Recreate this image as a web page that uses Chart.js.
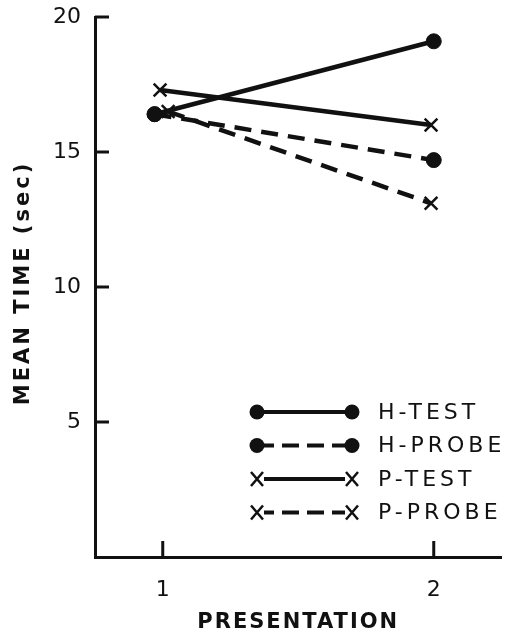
<!DOCTYPE html>
<html lang="en">
<head>
  <meta charset="UTF-8">
  <title>Mean time by presentation</title>
  <script src="https://cdn.jsdelivr.net/npm/chart.js"></script>
  <style>
    body { margin: 0; background: #fff; }
    #wrap { width: 513px; height: 637px; }
  </style>
</head>
<body>
  <div id="wrap"><canvas id="chart" width="513" height="637"></canvas></div>
  <script>
    // data
    const presentations = [1, 2];
    const hTestX = [0.97, 2];
    const hTest = [16.4, 19.1];
    const hProbeX = [0.97, 2];
    const hProbe = [16.4, 14.7];
    const pTestX = [0.99, 1.99];
    const pTest = [17.3, 16.0];
    const pProbeX = [1.02, 1.99];
    const pProbe = [16.5, 13.1];
    const yTicks = [5, 10, 15, 20];
    const seriesNames = ['H-TEST', 'H-PROBE', 'P-TEST', 'P-PROBE'];

    const ink = '#111';
    const toPoints = (xs, ys) => xs.map((x, i) => ({ x: x, y: ys[i] }));

    const makeSet = (label, xs, ys, style, dashed) => ({
      label: label,
      data: toPoints(xs, ys),
      borderColor: ink,
      backgroundColor: ink,
      borderWidth: 4.5,
      borderDash: dashed ? [17, 10] : [],
      pointStyle: style,
      pointRadius: style === 'circle' ? 7.5 : 9,
      pointBorderWidth: style === 'circle' ? 1 : 2.5,
      tension: 0
    });

    // legend drawn by hand: symbol - line - symbol, then name
    const legendPlugin = {
      id: 'handLegend',
      afterDraw(chart) {
        const ctx = chart.ctx;
        const area = chart.chartArea;
        const styles = ['circle', 'circle', 'crossRot', 'crossRot'];
        const dashes = [false, true, false, true];
        const x0 = area.left + 162, x1 = area.left + 257;
        ctx.save();
        seriesNames.forEach((name, i) => {
          const y = area.bottom - 145 + i * 33.5;
          ctx.strokeStyle = ink;
          ctx.lineWidth = 4;
          ctx.setLineDash(dashes[i] ? [17, 8] : []);
          ctx.beginPath();
          ctx.moveTo(x0, y);
          ctx.lineTo(x1, y);
          ctx.stroke();
          ctx.setLineDash([]);
          [x0, x1].forEach(px => {
            if (styles[i] === 'circle') {
              ctx.fillStyle = ink;
              ctx.beginPath();
              ctx.arc(px, y, 7.5, 0, Math.PI * 2);
              ctx.fill();
            } else {
              ctx.fillStyle = '#fff';
              ctx.fillRect(px - 7, y - 8, 14, 16);
              ctx.lineWidth = 2.5;
              ctx.beginPath();
              ctx.moveTo(px - 6, y - 7); ctx.lineTo(px + 6, y + 7);
              ctx.moveTo(px + 6, y - 7); ctx.lineTo(px - 6, y + 7);
              ctx.stroke();
            }
          });
          ctx.fillStyle = ink;
          ctx.font = '22px "DejaVu Sans"';
          ctx.letterSpacing = '4px';
          ctx.textBaseline = 'middle';
          ctx.textAlign = 'left';
          ctx.fillText(name, x1 + 26, y + 1);
        });
        ctx.restore();
      }
    };

    // inward tick marks and the axis titles
    const axesPlugin = {
      id: 'inwardTicks',
      afterDraw(chart) {
        const ctx = chart.ctx;
        const area = chart.chartArea;
        const xs = chart.scales.x, ys = chart.scales.y;
        ctx.save();
        ctx.strokeStyle = ink;
        ctx.lineWidth = 3;
        yTicks.forEach(v => {
          const py = ys.getPixelForValue(v);
          ctx.beginPath();
          ctx.moveTo(area.left, py);
          ctx.lineTo(area.left + 14, py);
          ctx.stroke();
        });
        presentations.forEach(v => {
          const px = xs.getPixelForValue(v);
          ctx.beginPath();
          ctx.moveTo(px, area.bottom);
          ctx.lineTo(px, area.bottom - 16);
          ctx.stroke();
        });
        ctx.fillStyle = ink;
        ctx.font = 'bold 21px "DejaVu Sans"';
        ctx.letterSpacing = '2px';
        ctx.textAlign = 'center';
        ctx.textBaseline = 'middle';
        ctx.fillText('PRESENTATION', (area.left + area.right) / 2, 623);
        ctx.letterSpacing = '3px';
        ctx.translate(24, (area.top + area.bottom) / 2 - 4);
        ctx.rotate(-Math.PI / 2);
        ctx.fillText('MEAN TIME (sec)', 0, 0);
        ctx.restore();
      }
    };

    new Chart(document.getElementById('chart'), {
      type: 'line',
      data: {
        datasets: [
          makeSet('H-TEST', hTestX, hTest, 'circle', false),
          makeSet('H-PROBE', hProbeX, hProbe, 'circle', true),
          makeSet('P-TEST', pTestX, pTest, 'crossRot', false),
          makeSet('P-PROBE', pProbeX, pProbe, 'crossRot', true)
        ]
      },
      options: {
        responsive: false,
        animation: false,
        layout: { padding: { top: 17, right: 6, left: 0, bottom: 0 } },
        plugins: {
          legend: { display: false },
          tooltip: { enabled: false }
        },
        scales: {
          x: {
            type: 'linear',
            min: 0.75,
            max: 2.25,
            afterBuildTicks: scale => { scale.ticks = presentations.map(v => ({ value: v })); },
            afterFit: scale => { scale.height = 80; scale.paddingLeft = 0; scale.paddingRight = 0; },
            grid: { display: false, drawTicks: false },
            border: { color: ink, width: 3 },
            ticks: { color: ink, font: { family: 'DejaVu Sans', size: 22 }, padding: 20 }
          },
          y: {
            min: 0,
            max: 20,
            afterBuildTicks: scale => { scale.ticks = yTicks.map(v => ({ value: v })); },
            afterFit: scale => { scale.width = 95; scale.paddingTop = 0; scale.paddingBottom = 0; },
            grid: { display: false, drawTicks: false },
            border: { color: ink, width: 3 },
            ticks: { color: ink, font: { family: 'DejaVu Sans', size: 22 }, padding: 14 }
          }
        }
      },
      plugins: [axesPlugin, legendPlugin]
    });
  </script>
</body>
</html>
